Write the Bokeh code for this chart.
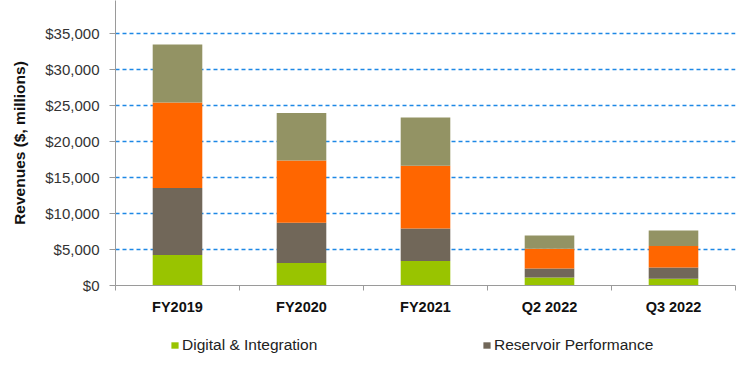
from bokeh.plotting import figure
from bokeh.layouts import column
from bokeh.models import ColumnDataSource, FixedTicker, Legend, LegendItem, Range1d, NumeralTickFormatter
from bokeh.embed import file_html
from bokeh.resources import INLINE

categories = ["FY2019", "FY2020", "FY2021", "Q2 2022", "Q3 2022"]
digital_integration = [4240, 3130, 3410, 1100, 930]
reservoir_performance = [9300, 5570, 4520, 1250, 1560]
well_construction = [11870, 8660, 8700, 2760, 2990]
production_systems = [8070, 6590, 6710, 1850, 2170]
series_names = ["Digital & Integration", "Reservoir Performance", "Well Construction", "Production Systems"]
colors = ["#99C400", "#716759", "#FF6600", "#939364"]
y_ticks = [0, 5000, 10000, 15000, 20000, 25000, 30000, 35000, 40000]

xs = [i + 0.5 for i in range(len(categories))]
source = ColumnDataSource(dict(
    x=xs,
    s0=digital_integration,
    s1=reservoir_performance,
    s2=well_construction,
    s3=production_systems,
))

FONT = "Liberation Sans"

p = figure(width=750, height=320, output_backend="svg", toolbar_location=None,
           x_range=Range1d(0, len(categories)), y_range=Range1d(0, 39583),
           min_border_left=115, min_border_right=15, min_border_top=0, min_border_bottom=35)
p.outline_line_color = None
p.background_fill_color = "white"
p.border_fill_color = "white"

renderers = p.vbar_stack(["s0", "s1", "s2", "s3"], x="x", width=0.4, color=colors,
                         line_color=None, source=source)

# x axis
p.xaxis.ticker = FixedTicker(ticks=xs, minor_ticks=list(range(len(categories) + 1)))
p.xaxis.major_label_overrides = {x: c for x, c in zip(xs, categories)}
p.xaxis.major_tick_out = 0
p.xaxis.major_tick_in = 0
p.xaxis.minor_tick_out = 5
p.xaxis.minor_tick_in = 0
p.xaxis.minor_tick_line_color = "#9A9A9A"
p.xaxis.axis_line_color = "#9A9A9A"
p.xaxis.major_label_text_font = FONT
p.xaxis.major_label_text_font_style = "bold"
p.xaxis.major_label_text_font_size = "14.5px"
p.xaxis.major_label_text_color = "#111111"
p.xaxis.major_label_standoff = 8

# y axis
p.yaxis.ticker = FixedTicker(ticks=y_ticks)
p.yaxis.formatter = NumeralTickFormatter(format="$0,0")
p.yaxis.major_tick_out = 6
p.yaxis.major_tick_in = 0
p.yaxis.minor_tick_line_color = None
p.yaxis.axis_line_color = "#9A9A9A"
p.yaxis.major_tick_line_color = "#9A9A9A"
p.yaxis.major_label_text_font = FONT
p.yaxis.major_label_text_font_size = "15px"
p.yaxis.major_label_text_color = "#333333"
p.yaxis.major_label_standoff = 10
p.yaxis.axis_label = "Revenues ($, millions)"
p.yaxis.axis_label_text_font = FONT
p.yaxis.axis_label_text_font_style = "bold"
p.yaxis.axis_label_text_font_size = "15.5px"
p.yaxis.axis_label_text_color = "#111111"
p.yaxis.axis_label_standoff = 14

p.xgrid.grid_line_color = None
p.ygrid.ticker = FixedTicker(ticks=y_ticks[1:])
p.ygrid.grid_line_color = "#1E88E5"
p.ygrid.grid_line_dash = "4 3"
p.ygrid.grid_line_width = 1.3

# legend strip (frame aligned with the main plot's frame by the column layout)
lg = figure(width=750, height=55, output_backend="svg", toolbar_location=None,
            x_range=Range1d(0, 1), y_range=Range1d(0, 1),
            min_border_left=0, min_border_right=0, min_border_top=0, min_border_bottom=0)
lg.axis.visible = False
lg.grid.visible = False
lg.outline_line_color = None
lg.border_fill_color = "white"
keys = [lg.vbar(x="x", top="s%d" % i, width=0.4, color=colors[i], line_color=None,
                source=source, visible=False) for i in range(2)]

legend = Legend(items=[LegendItem(label=series_names[i], renderers=[keys[i]]) for i in range(2)],
                orientation="horizontal", location=(55, 21))
legend.glyph_width = 9
legend.glyph_height = 8
legend.label_standoff = 3
legend.label_width = 150
legend.spacing = 150
legend.padding = 0
legend.margin = 0
legend.border_line_color = None
legend.background_fill_alpha = 0
legend.label_text_font = FONT
legend.label_text_font_size = "15.5px"
legend.label_text_color = "#222222"
lg.add_layout(legend, "center")

layout = column(p, lg, spacing=0)
open("out.html", "w").write(file_html(layout, INLINE))
